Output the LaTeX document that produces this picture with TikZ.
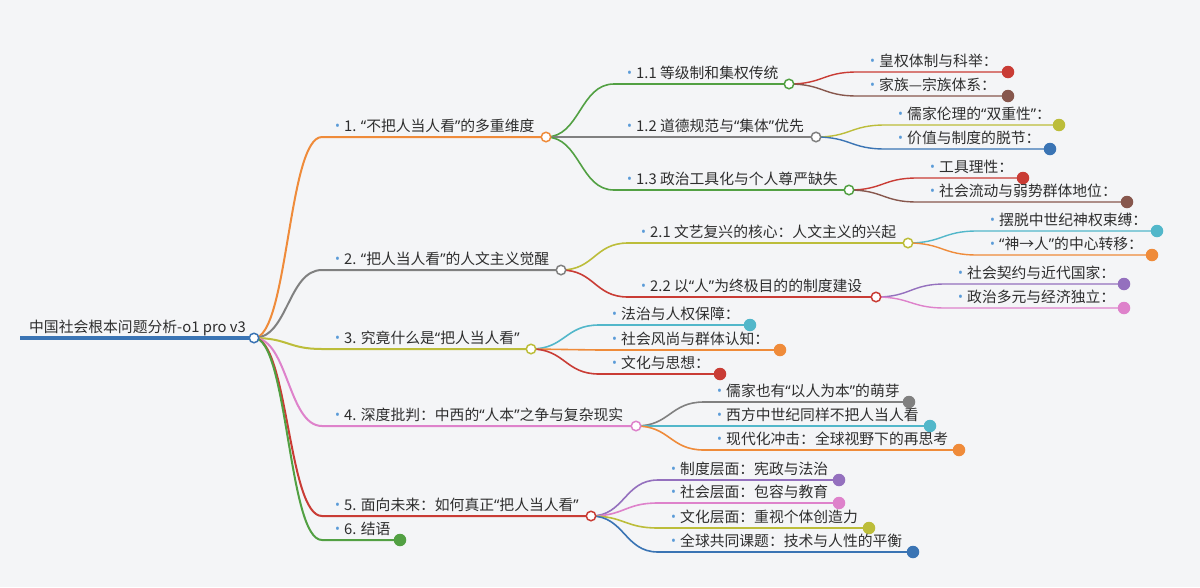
\documentclass[tikz,border=0pt]{standalone}
\usepackage{fontspec}
\setmainfont{Noto Sans CJK SC}
\newfontfamily\latinfont{Noto Sans}
\usetikzlibrary{calc}
\definecolor{bgc}{HTML}{F4F5F7}
\definecolor{ink}{HTML}{2E2E2E}
\definecolor{cDot}{HTML}{5A9BD8}
\definecolor{cBlue}{HTML}{3A74B4}
\definecolor{cOra}{HTML}{EF8B3A}
\definecolor{cGray}{HTML}{808080}
\definecolor{cOlive}{HTML}{BCBD3A}
\definecolor{cPink}{HTML}{DE82CB}
\definecolor{cRed}{HTML}{C93C35}
\definecolor{cGreen}{HTML}{52A043}
\definecolor{cPurple}{HTML}{9470BE}
\definecolor{cBrown}{HTML}{87574D}
\definecolor{cCyan}{HTML}{52B7CA}
\pgfdeclarelayer{back}
\pgfdeclarelayer{lines}
\pgfsetlayers{back,lines,main}
\newcommand\bul{\makebox[9pt][l]{\raisebox{0.6pt}{\textcolor{cDot}{\fontsize{13}{13}\latinfont •}}}}
\newcommand\oq{{\latinfont “}}
\newcommand\cq{{\latinfont ”}}

\begin{document}
\begin{tikzpicture}[
  x=1pt,y=-1pt,
  txt/.style={anchor=base west,inner sep=0pt,font=\fontsize{14.8}{14.8}\selectfont,text=ink},
  hub/.style={circle,draw=#1,fill=white,line width=1.5pt,minimum size=9.5pt,inner sep=0pt},
  leaf/.style={circle,fill=#1,minimum size=12.5pt,inner sep=0pt},
  link/.style={to path={let \p1=(\tikztostart),\p2=(\tikztotarget) in
    .. controls ({(\x1+\x2)/2},\y1) and ({(\x1+\x2)/2},\y2) .. (\tikztotarget)}},
  lv1/.style={line width=2pt},
  lv2/.style={line width=1.6pt},
  lv3/.style={line width=1.4pt}]
\begin{pgfonlayer}{back}
\fill[bgc] (0,0) rectangle (1200,587);
\end{pgfonlayer}
% root
\coordinate (s0) at (20,338);
\node[hub=cBlue] (n0) at (254,338) {};
\node[txt] (t0) at (29,332) {中国社会根本问题分析-o1 pro v3};
% level 1
\coordinate (s1) at (322,137);
\node[hub=cOra] (n1) at (546,137) {};
\node[txt] (t1) at (335,131.5) {\bul 1. \oq 不把人当人看\cq 的多重维度};
\coordinate (s2) at (322,270);
\node[hub=cGray] (n2) at (561,270) {};
\node[txt] (t2) at (335,264.5) {\bul 2. \oq 把人当人看\cq 的人文主义觉醒};
\coordinate (s3) at (322,349);
\node[hub=cOlive] (n3) at (531,349) {};
\node[txt] (t3) at (335,343.5) {\bul 3. 究竟什么是\oq 把人当人看\cq};
\coordinate (s4) at (322,426);
\node[hub=cPink] (n4) at (636,426) {};
\node[txt] (t4) at (335,420.5) {\bul 4. 深度批判：中西的\oq 人本\cq 之争与复杂现实};
\coordinate (s5) at (322,516);
\node[hub=cRed] (n5) at (591,516) {};
\node[txt] (t5) at (335,510.5) {\bul 5. 面向未来：如何真正\oq 把人当人看\cq};
\coordinate (s6) at (322,540);
\node[leaf=cGreen] (n6) at (400,540) {};
\node[txt] (t6) at (335,534.5) {\bul 6. 结语};
% level 2
\coordinate (s11) at (614,84);
\node[hub=cGreen] (n11) at (789,84) {};
\node[txt] (t11) at (627,78.5) {\bul 1.1 等级制和集权传统};
\coordinate (s12) at (614,137);
\node[hub=cGray] (n12) at (816,137) {};
\node[txt] (t12) at (627,131.5) {\bul 1.2 道德规范与\oq 集体\cq 优先};
\coordinate (s13) at (614,190);
\node[hub=cGreen] (n13) at (849,190) {};
\node[txt] (t13) at (627,184.5) {\bul 1.3 政治工具化与个人尊严缺失};
\coordinate (s21) at (628,243);
\node[hub=cOlive] (n21) at (908,243) {};
\node[txt] (t21) at (641,237.5) {\bul 2.1 文艺复兴的核心：人文主义的兴起};
\coordinate (s22) at (628,297);
\node[hub=cRed] (n22) at (876,297) {};
\node[txt] (t22) at (641,291.5) {\bul 2.2 以\oq 人\cq 为终极目的的制度建设};
\coordinate (s31) at (599,325);
\node[leaf=cCyan] (n31) at (750,325) {};
\node[txt] (t31) at (612,319.5) {\bul 法治与人权保障：};
\coordinate (s32) at (599,350);
\node[leaf=cOra] (n32) at (780,350) {};
\node[txt] (t32) at (612,344.5) {\bul 社会风尚与群体认知：};
\coordinate (s33) at (599,374);
\node[leaf=cRed] (n33) at (720,374) {};
\node[txt] (t33) at (612,368.5) {\bul 文化与思想：};
\coordinate (s41) at (704,402);
\node[leaf=cGray] (n41) at (909,402) {};
\node[txt] (t41) at (717,396.5) {\bul 儒家也有\oq 以人为本\cq 的萌芽};
\coordinate (s42) at (704,426);
\node[leaf=cCyan] (n42) at (930,426) {};
\node[txt] (t42) at (717,420.5) {\bul 西方中世纪同样不把人当人看};
\coordinate (s43) at (704,450);
\node[leaf=cOra] (n43) at (959,450) {};
\node[txt] (t43) at (717,444.5) {\bul 现代化冲击：全球视野下的再思考};
\coordinate (s51) at (658,480);
\node[leaf=cPurple] (n51) at (839,480) {};
\node[txt] (t51) at (671,474.5) {\bul 制度层面：宪政与法治};
\coordinate (s52) at (658,503);
\node[leaf=cPink] (n52) at (839,503) {};
\node[txt] (t52) at (671,497.5) {\bul 社会层面：包容与教育};
\coordinate (s53) at (658,528);
\node[leaf=cOlive] (n53) at (869,528) {};
\node[txt] (t53) at (671,522.5) {\bul 文化层面：重视个体创造力};
\coordinate (s54) at (658,552);
\node[leaf=cBlue] (n54) at (913,552) {};
\node[txt] (t54) at (671,546.5) {\bul 全球共同课题：技术与人性的平衡};
% level 3
\coordinate (s111) at (857,72);
\node[leaf=cRed] (n111) at (1008,72) {};
\node[txt] (t111) at (870,66.5) {\bul 皇权体制与科举：};
\coordinate (s112) at (857,96);
\node[leaf=cBrown] (n112) at (1008,96) {};
\node[txt] (t112) at (870,90.5) {\bul 家族—宗族体系：};
\coordinate (s121) at (885,125);
\node[leaf=cOlive] (n121) at (1059,125) {};
\node[txt] (t121) at (898,119.5) {\bul 儒家伦理的\oq 双重性\cq ：};
\coordinate (s122) at (885,149);
\node[leaf=cBlue] (n122) at (1050,149) {};
\node[txt] (t122) at (898,143.5) {\bul 价值与制度的脱节：};
\coordinate (s131) at (917,178);
\node[leaf=cRed] (n131) at (1023,178) {};
\node[txt] (t131) at (930,172.5) {\bul 工具理性：};
\coordinate (s132) at (917,202);
\node[leaf=cBrown] (n132) at (1127,202) {};
\node[txt] (t132) at (930,196.5) {\bul 社会流动与弱势群体地位：};
\coordinate (s211) at (977,231);
\node[leaf=cCyan] (n211) at (1157,231) {};
\node[txt] (t211) at (990,225.5) {\bul 摆脱中世纪神权束缚：};
\coordinate (s212) at (977,255);
\node[leaf=cOra] (n212) at (1152,255) {};
\node[txt] (t212) at (990,249.5) {\bul \oq 神→人\cq 的中心转移：};
\coordinate (s221) at (945,284);
\node[leaf=cPurple] (n221) at (1124,284) {};
\node[txt] (t221) at (958,278.5) {\bul 社会契约与近代国家：};
\coordinate (s222) at (945,308);
\node[leaf=cPink] (n222) at (1124,308) {};
\node[txt] (t222) at (958,302.5) {\bul 政治多元与经济独立：};
% connectors
\begin{pgfonlayer}{lines}
\draw[cBlue,line width=4pt] (s0)--(n0.center);
\draw[lv1,cOra] (n0.center) to[link] (s1)--(n1.center);
\draw[lv1,cGray] (n0.center) to[link] (s2)--(n2.center);
\draw[lv1,cOlive] (n0.center) to[link] (s3)--(n3.center);
\draw[lv1,cPink] (n0.center) to[link] (s4)--(n4.center);
\draw[lv1,cRed] (n0.center) to[link] (s5)--(n5.center);
\draw[lv1,cGreen] (n0.center) to[link] (s6)--(n6.center);
\draw[lv2,cGreen] (n1.center) to[link] (s11)--(n11.center);
\draw[lv2,cGray] (n1.center) to[link] (s12)--(n12.center);
\draw[lv2,cGreen] (n1.center) to[link] (s13)--(n13.center);
\draw[lv2,cOlive] (n2.center) to[link] (s21)--(n21.center);
\draw[lv2,cRed] (n2.center) to[link] (s22)--(n22.center);
\draw[lv2,cCyan] (n3.center) to[link] (s31)--(n31.center);
\draw[lv2,cOra] (n3.center) to[link] (s32)--(n32.center);
\draw[lv2,cRed] (n3.center) to[link] (s33)--(n33.center);
\draw[lv2,cGray] (n4.center) to[link] (s41)--(n41.center);
\draw[lv2,cCyan] (n4.center) to[link] (s42)--(n42.center);
\draw[lv2,cOra] (n4.center) to[link] (s43)--(n43.center);
\draw[lv2,cPurple] (n5.center) to[link] (s51)--(n51.center);
\draw[lv2,cPink] (n5.center) to[link] (s52)--(n52.center);
\draw[lv2,cOlive] (n5.center) to[link] (s53)--(n53.center);
\draw[lv2,cBlue] (n5.center) to[link] (s54)--(n54.center);
\draw[lv3,cRed] (n11.center) to[link] (s111)--(n111.center);
\draw[lv3,cBrown] (n11.center) to[link] (s112)--(n112.center);
\draw[lv3,cOlive] (n12.center) to[link] (s121)--(n121.center);
\draw[lv3,cBlue] (n12.center) to[link] (s122)--(n122.center);
\draw[lv3,cRed] (n13.center) to[link] (s131)--(n131.center);
\draw[lv3,cBrown] (n13.center) to[link] (s132)--(n132.center);
\draw[lv3,cCyan] (n21.center) to[link] (s211)--(n211.center);
\draw[lv3,cOra] (n21.center) to[link] (s212)--(n212.center);
\draw[lv3,cPurple] (n22.center) to[link] (s221)--(n221.center);
\draw[lv3,cPink] (n22.center) to[link] (s222)--(n222.center);
\end{pgfonlayer}
\end{tikzpicture}
\end{document}
